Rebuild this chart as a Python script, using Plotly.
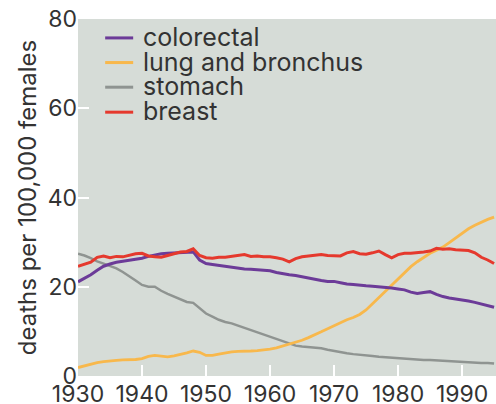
import plotly.graph_objects as go

years = list(range(1930, 1996))

series_names = ["colorectal", "lung and bronchus", "stomach", "breast"]
series_colors = ["#6c3b98", "#f8b84c", "#8f9491", "#e5392d"]

colorectal = [21.1, 21.9, 22.7, 23.7, 24.6, 25.1, 25.5, 25.7, 25.9, 26.1,
              26.4, 26.8, 27.1, 27.4, 27.5, 27.6, 27.7, 27.8, 27.8, 26.0,
              25.2, 25.0, 24.8, 24.6, 24.3, 24.2, 24.0, 23.9, 23.8, 23.8,
              23.6, 23.2, 22.9, 22.7, 22.5, 22.2, 21.9, 21.6, 21.4, 21.2,
              21.2, 20.9, 20.6, 20.5, 20.3, 20.2, 20.1, 20.0, 19.8, 19.7,
              19.5, 19.3, 18.8, 18.5, 18.7, 18.9, 18.3, 17.8, 17.5, 17.3,
              17.0, 16.8, 16.5, 16.1, 15.8, 15.4]

lung = [1.9, 2.3, 2.6, 3.0, 3.2, 3.4, 3.5, 3.6, 3.6, 3.7,
        3.9, 4.4, 4.6, 4.4, 4.3, 4.5, 4.8, 5.2, 5.6, 5.3,
        4.6, 4.6, 4.9, 5.2, 5.4, 5.5, 5.5, 5.6, 5.7, 5.8,
        6.0, 6.3, 6.7, 7.1, 7.5, 8.0, 8.6, 9.2, 9.9, 10.6,
        11.3, 12.0, 12.6, 13.1, 13.8, 14.8, 16.2, 17.5, 19.0, 20.5,
        21.8, 23.2, 24.5, 25.6, 26.6, 27.5, 28.2, 28.9, 29.9, 31.0,
        32.1, 33.0, 33.8, 34.5, 35.1, 35.6]

stomach = [27.4, 27.0, 26.4, 25.7, 25.2, 24.6, 24.1, 23.3, 22.4, 21.4,
           20.4, 20.0, 20.0, 19.1, 18.4, 17.8, 17.2, 16.6, 16.4, 15.3,
           14.0, 13.3, 12.6, 12.1, 11.8, 11.3, 10.8, 10.2, 9.7, 9.2,
           8.8, 8.2, 7.7, 7.2, 6.8, 6.6, 6.5, 6.4, 6.2, 5.9,
           5.6, 5.3, 5.1, 4.9, 4.8, 4.7, 4.5, 4.3, 4.2, 4.0,
           3.9, 3.8, 3.7, 3.7, 3.6, 3.6, 3.5, 3.4, 3.3, 3.3,
           3.2, 3.1, 3.0, 2.9, 2.9, 2.8]

breast = [24.6, 25.0, 25.5, 26.6, 26.9, 26.5, 26.8, 26.7, 27.0, 27.4,
          27.5, 26.9, 26.7, 26.6, 27.0, 27.4, 27.8, 27.9, 28.5, 27.0,
          26.5, 26.4, 26.6, 26.6, 26.8, 27.0, 27.2, 26.8, 26.9, 26.7,
          26.7, 26.5, 26.2, 25.6, 26.3, 26.7, 26.9, 27.1, 27.2, 27.0,
          26.9, 26.9, 27.6, 27.9, 27.4, 27.3, 27.6, 28.0, 27.2, 26.5,
          27.2, 27.5, 27.5, 27.6, 27.8, 28.0, 28.6, 28.4, 28.5, 28.3,
          28.2, 28.1, 27.6, 26.6, 26.0, 25.2]

x_ticks = [1930, 1940, 1950, 1960, 1970, 1980, 1990]
y_ticks = [0, 20, 40, 60, 80]

values = [colorectal, lung, stomach, breast]
widths = [3, 2.8, 2.5, 3]
# draw order: stomach, lung, colorectal, breast on top
draw_order = [2, 1, 0, 3]

fig = go.Figure()
for i in draw_order:
    fig.add_trace(go.Scatter(
        x=years, y=values[i], mode="lines", name=series_names[i],
        line=dict(color=series_colors[i], width=widths[i]),
        showlegend=False, hoverinfo="skip"))

font_family = "Inter, Liberation Sans, Arial, sans-serif"
text_color = "#333333"

# custom legend (tight line spacing as in the reference)
leg_y = [0.947, 0.878, 0.809, 0.739]
for i, name in enumerate(series_names):
    fig.add_shape(type="line", xref="paper", yref="paper",
                  x0=0.065, x1=0.132, y0=leg_y[i], y1=leg_y[i],
                  line=dict(color=series_colors[i], width=3))
    fig.add_annotation(xref="paper", yref="paper", x=0.151, y=leg_y[i],
                       xanchor="left", yanchor="middle", yshift=1,
                       text=name, showarrow=False,
                       font=dict(size=25, color=text_color, family=font_family))

fig.update_layout(
    width=496, height=404,
    margin=dict(l=78, r=0, t=19, b=28),
    paper_bgcolor="white",
    plot_bgcolor="#d6dcd7",
    font=dict(family=font_family, size=24, color=text_color),
    showlegend=False,
)
fig.update_xaxes(
    range=[1930, 1995.3], tickvals=x_ticks, ticks="inside", ticklen=11,
    tickcolor="white", tickwidth=1.5, showgrid=False, zeroline=False,
    showline=False, tickfont=dict(size=23, color=text_color),
    automargin=False, ticklabelstandoff=2,
)
fig.update_yaxes(
    range=[0, 80], tickvals=y_ticks, ticks="inside", ticklen=11,
    tickcolor="white", tickwidth=1.5, showgrid=False, zeroline=False,
    showline=False, tickfont=dict(size=23, color=text_color),
    automargin=False,
    title=dict(text="deaths per 100,000 females", standoff=4,
               font=dict(size=24, color=text_color)),
)

fig.write_html("out.html",
               config={"displayModeBar": False},
               post_script="document.body.style.margin='0';"
                           "document.body.style.overflow='hidden';")
